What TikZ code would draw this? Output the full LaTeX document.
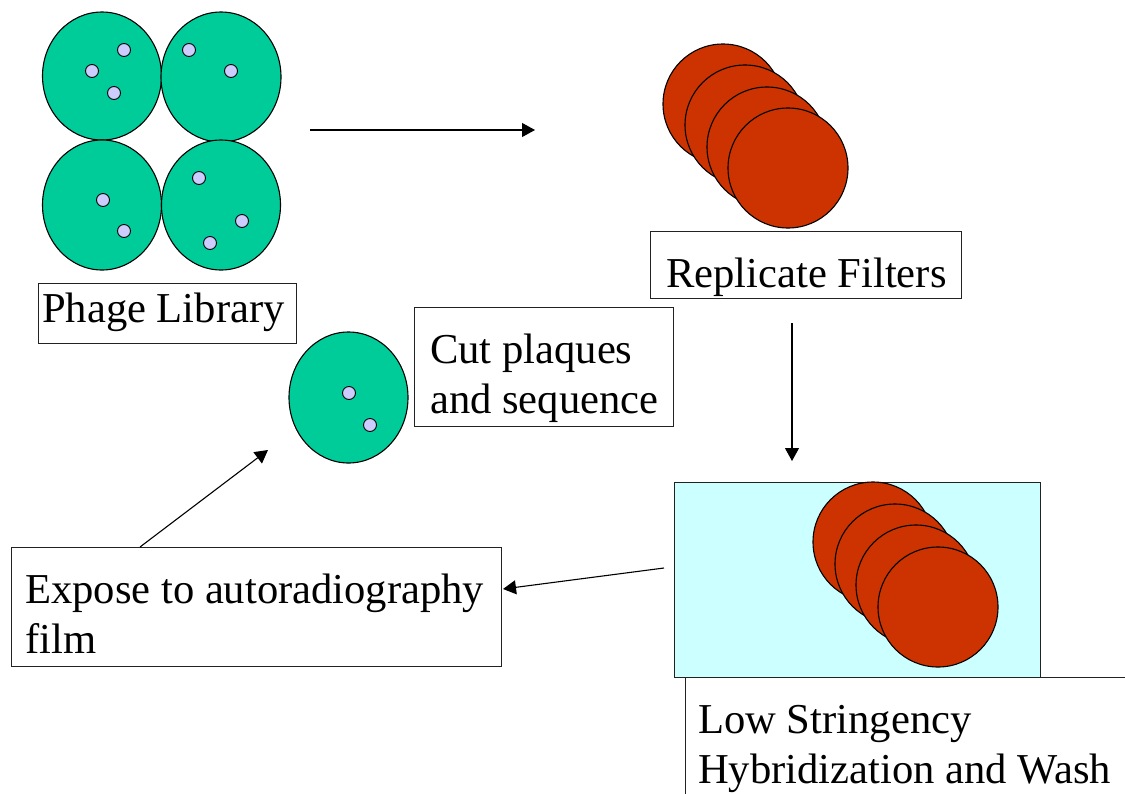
\documentclass[tikz,border=0pt]{standalone}
\usepackage{fontspec}
\setmainfont{Liberation Serif}
\usetikzlibrary{arrows.meta,shapes.geometric}

\definecolor{plategreen}{HTML}{00CC99}
\definecolor{plaquedot}{HTML}{CCCCFF}
\definecolor{filterred}{HTML}{CC3300}
\definecolor{washblue}{HTML}{CCFFFF}
\definecolor{edge}{HTML}{222222}

\tikzset{
  plate/.style={ellipse, draw=black, line width=1.1pt, fill=plategreen, inner sep=0pt},
  plaque/.style={circle, draw=black, line width=0.9pt, fill=plaquedot, inner sep=0pt, minimum size=13pt},
  filter/.style={circle, draw=black, line width=1.1pt, fill=filterred, inner sep=0pt, minimum size=120pt},
  labelbox/.style={rectangle, draw=edge, line width=1.1pt, inner sep=0pt, anchor=north west},
  labeltext/.style={inner sep=0pt, anchor=base west, font=\fontsize{42.6}{50}\selectfont},
  flow/.style={draw=black, line width=1.1pt, -{Triangle[length=13pt,width=14pt]}}
}

\begin{document}
\begin{tikzpicture}[x=1pt, y=-1pt]
  \path[use as bounding box] (0,0) rectangle (1125,793);
  \clip (0,0) rectangle (1125,793);

  % phage library: four plates with plaques
  \node[plate, minimum width=119pt, minimum height=128pt] (plateA) at (102,76) {};
  \node[plate, minimum width=120pt, minimum height=130pt] (plateB) at (221,77) {};
  \node[plate, minimum width=119pt, minimum height=130pt] (plateC) at (102,205) {};
  \node[plate, minimum width=119pt, minimum height=130pt] (plateD) at (221,205) {};
  \node[plaque] (a1) at (124,50) {};
  \node[plaque] (a2) at (92,71) {};
  \node[plaque] (a3) at (114,93) {};
  \node[plaque] (b1) at (189,50) {};
  \node[plaque] (b2) at (231,71) {};
  \node[plaque] (c1) at (103,200) {};
  \node[plaque] (c2) at (124,231) {};
  \node[plaque] (d1) at (199,178) {};
  \node[plaque] (d2) at (242,221) {};
  \node[plaque] (d3) at (210,243) {};
  \node[labelbox, minimum width=258pt, minimum height=60pt] (libbox) at (38,283) {};
  \node[labeltext] (libtext) at (42,322) {Phage Library};

  % replicate filters
  \node[filter] (rf1) at (723,104) {};
  \node[filter] (rf2) at (745,125) {};
  \node[filter] (rf3) at (767,147) {};
  \node[filter] (rf4) at (788,168) {};
  \node[labelbox, minimum width=311pt, minimum height=67pt] (repbox) at (650,231) {};
  \node[labeltext] (reptext) at (666,287) {Replicate Filters};

  % hybridization tray with filters
  \node[labelbox, fill=washblue, minimum width=366pt, minimum height=195pt] (tray) at (674,482) {};
  \node[filter] (hf1) at (873,542) {};
  \node[filter] (hf2) at (895,564) {};
  \node[filter] (hf3) at (916,585) {};
  \node[filter] (hf4) at (938,607) {};
  \node[labelbox, minimum width=480pt, minimum height=150pt] (hybbox) at (685,677) {};
  \node[labeltext] (hybtext) at (698,733) {\begin{tabular}[t]{@{}l@{}}Low Stringency\\Hybridization and Wash\end{tabular}};

  % film exposure
  \node[labelbox, minimum width=490pt, minimum height=119pt] (filmbox) at (11,547) {};
  \node[labeltext] (filmtext) at (25,603) {\begin{tabular}[t]{@{}l@{}}Expose to autoradiography\\film\end{tabular}};

  % picked plate
  \node[plate, minimum width=119pt, minimum height=131pt] (pick) at (348.5,397.5) {};
  \node[plaque] (p1) at (349,393) {};
  \node[plaque] (p2) at (370,425) {};
  \node[labelbox, minimum width=259pt, minimum height=119pt] (cutbox) at (414,307) {};
  \node[labeltext] (cuttext) at (430,363) {\begin{tabular}[t]{@{}l@{}}Cut plaques\\and sequence\end{tabular}};

  % arrow end points
  \coordinate (s1) at (310,130);
  \coordinate (e1) at (535,130);
  \coordinate (s2) at (792,323);
  \coordinate (e2) at (792,461);
  \coordinate (s3) at (664,568);
  \coordinate (e3) at (503,589);
  \coordinate (s4) at (140,547);
  \coordinate (e4) at (268,450);

  \draw[flow] (s1) -- (e1);
  \draw[flow] (s2) -- (e2);
  \draw[flow] (s3) -- (e3);
  \draw[flow] (s4) -- (e4);
\end{tikzpicture}
\end{document}
